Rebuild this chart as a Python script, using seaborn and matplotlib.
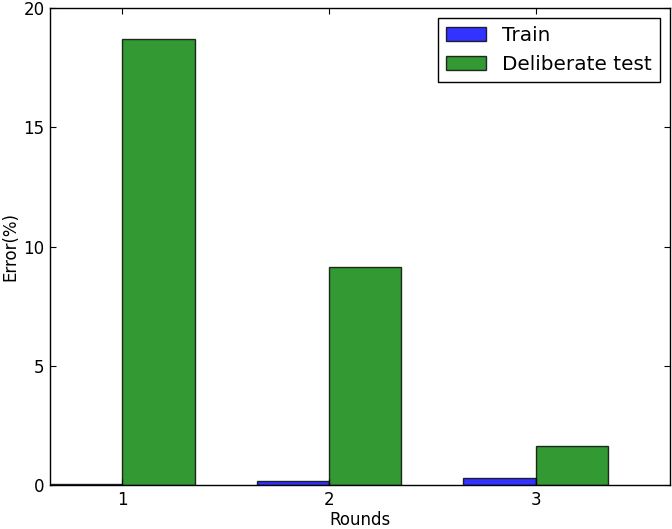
import matplotlib
matplotlib.use('Agg')
import matplotlib.pyplot as plt
import seaborn as sns
import pandas as pd

# values
rounds = ['1', '2', '3']
train_err = [0.03, 0.15, 0.28]
test_err = [18.68, 9.14, 1.63]
series = ['Train', 'Deliberate test']

df = pd.DataFrame({
    'Rounds': rounds * 2,
    'Error': train_err + test_err,
    'Set': [series[0]] * 3 + [series[1]] * 3,
})

sns.set_style('white')
plt.rcParams['font.family'] = ['DejaVu Sans']
plt.rcParams['text.color'] = 'black'
plt.rcParams['axes.labelcolor'] = 'black'
plt.rcParams['xtick.color'] = 'black'
plt.rcParams['ytick.color'] = 'black'

fig = plt.figure(figsize=(6.72, 5.29), dpi=100)
ax = fig.add_axes([50 / 672, 1 - 485 / 529, 620 / 672, 477 / 529])

sns.barplot(data=df, x='Rounds', y='Error', hue='Set', hue_order=series,
            palette=['#0000ff', '#008000'], saturation=1, alpha=0.8,
            width=0.7, edgecolor='black', linewidth=1, ax=ax)

ax.set_xlim(-0.35, 2.65)
ax.set_ylim(0, 20)
ax.set_yticks([0, 5, 10, 15, 20])
ax.set_xlabel('Rounds', fontsize=12, labelpad=2)
ax.set_ylabel('Error(%)', fontsize=12, labelpad=3)
ax.tick_params(direction='in', length=4, labelsize=12, top=True, right=True,
               bottom=True, left=True, color='black', pad=4)
for s in ax.spines.values():
    s.set_visible(True)
    s.set_color('black')
    s.set_linewidth(1)

leg = ax.legend(loc='upper right', fontsize=14.4, frameon=True, fancybox=False,
                edgecolor='black', framealpha=1, borderaxespad=0.5,
                handlelength=2, handletextpad=0.8, borderpad=0.4,
                labelspacing=0.5)
leg.get_frame().set_linewidth(1)

fig.savefig('out.png', dpi=100)
